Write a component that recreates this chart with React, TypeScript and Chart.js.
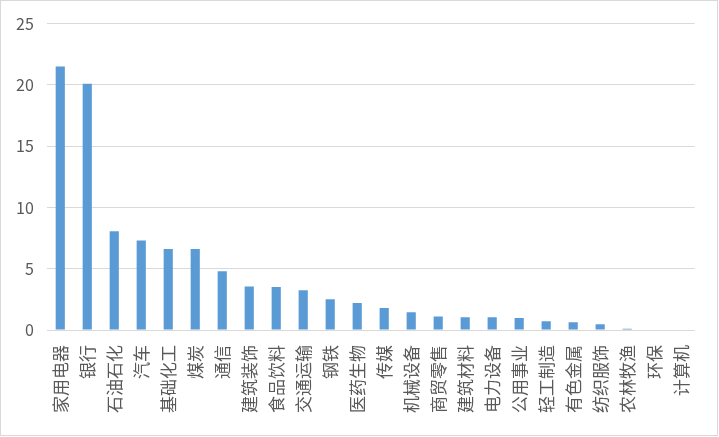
import React, { useEffect, useRef } from "react";
import { Chart, registerables } from "chart.js";

Chart.register(...registerables);

const categories = [
  "家用电器", "银行", "石油石化", "汽车", "基础化工", "煤炭", "通信", "建筑装饰",
  "食品饮料", "交通运输", "钢铁", "医药生物", "传媒", "机械设备", "商贸零售", "建筑材料",
  "电力设备", "公用事业", "轻工制造", "有色金属", "纺织服饰", "农林牧渔", "环保", "计算机",
];

const values = [
  21.5, 20.1, 8.05, 7.3, 6.6, 6.6, 4.8, 3.55,
  3.5, 3.25, 2.5, 2.2, 1.8, 1.45, 1.1, 1.05,
  1.05, 0.97, 0.72, 0.63, 0.47, 0.1, 0, 0,
];

const yTicks = [0, 5, 10, 15, 20, 25];

export default function App() {
  const ref = useRef<HTMLCanvasElement | null>(null);

  useEffect(() => {
    if (!ref.current) return;
    const chart = new Chart(ref.current, {
      type: "bar",
      data: {
        labels: categories,
        datasets: [
          {
            data: values,
            backgroundColor: "#5B9BD5",
            borderWidth: 0,
            barPercentage: 0.34,
            categoryPercentage: 1,
          },
        ],
      },
      options: {
        animation: false,
        responsive: true,
        maintainAspectRatio: false,
        layout: { padding: { left: 2, right: 21, top: 14, bottom: 7 } },
        plugins: { legend: { display: false }, tooltip: { enabled: false } },
        scales: {
          x: {
            grid: { display: false, drawTicks: false },
            border: { display: false },
            ticks: {
              autoSkip: false,
              minRotation: 90,
              maxRotation: 90,
              padding: 15,
              color: "#595959",
              font: { family: "'Noto Sans CJK SC'", size: 17 },
            },
          },
          y: {
            min: yTicks[0],
            max: yTicks[yTicks.length - 1],
            afterBuildTicks: (axis: any) => {
              axis.ticks = yTicks.map((v) => ({ value: v }));
            },
            grid: { color: "#D9D9D9", lineWidth: 1, drawTicks: false },
            border: { display: false },
            ticks: {
              padding: 13,
              color: "#595959",
              font: { family: "'Noto Sans CJK SC'", size: 16 },
            },
          },
        },
      },
    });
    return () => chart.destroy();
  }, []);

  return (
    <div
      style={{
        position: "fixed",
        left: 0,
        top: 0,
        width: 718,
        height: 436,
        boxSizing: "border-box",
        border: "1px solid #D9D9D9",
        background: "#fff",
      }}
    >
      <canvas ref={ref} />
    </div>
  );
}
